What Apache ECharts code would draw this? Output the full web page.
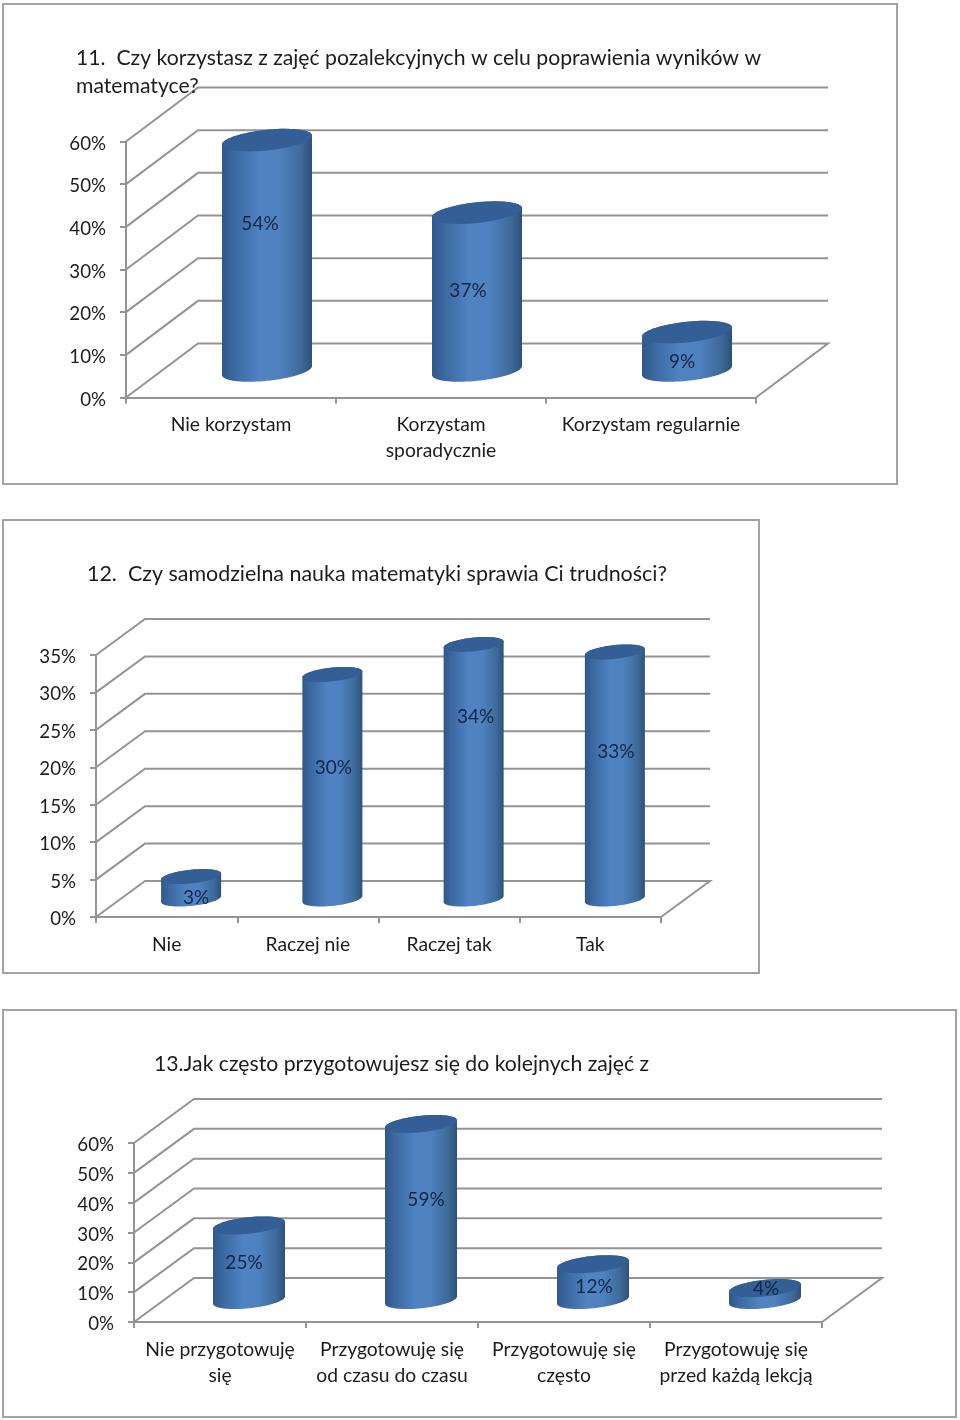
<!DOCTYPE html>
<html><head><meta charset="utf-8">
<style>html,body{margin:0;padding:0;background:#fff}#c{width:960px;height:1420px}</style>
<script src="https://cdn.jsdelivr.net/npm/echarts@6/dist/echarts.min.js"></script>
</head><body><div id="c"></div>
<script>
// ---- data ----
const categories1 = ['Nie korzystam', 'Korzystam\nsporadycznie', 'Korzystam regularnie'];
const values1 = [54, 37, 9];
const ticks1 = [0, 10, 20, 30, 40, 50, 60];
const categories2 = ['Nie', 'Raczej nie', 'Raczej tak', 'Tak'];
const values2 = [3, 30, 34, 33];
const ticks2 = [0, 5, 10, 15, 20, 25, 30, 35];
const categories3 = ['Nie przygotowuję\nsię', 'Przygotowuję się\nod czasu do czasu', 'Przygotowuję się\nczęsto', 'Przygotowuję się\nprzed każdą lekcją'];
const values3 = [25, 59, 12, 4];
const ticks3 = [0, 10, 20, 30, 40, 50, 60];
const title1 = '11.  Czy korzystasz z zajęć pozalekcyjnych w celu poprawienia wyników w\nmatematyce?';
const title2 = '12.  Czy samodzielna nauka matematyki sprawia Ci trudności?';
const title3 = '13.Jak często przygotowujesz się do kolejnych zajęć z';

// ---- layout ----
const FONT = 'Lato';
const TXT = '#1c1c1c', GRID = '#949494';
const panels = [
  {cats: categories1, vals: values1, ticks: ticks1, title: title1, tx: 76, ty: 44, ts: 21.2,
   frame: [3, 4, 894, 480], left: 126, top: 141.5, w: 630, h: 256, dx: 72, dy: 54, barW: 90, bx: 0, xm: 14,
   lab: [[-7, -31], [-9, -1], [-5, 11]]},
  {cats: categories2, vals: values2, ticks: ticks2, title: title2, tx: 87, ty: 560, ts: 21.45,
   frame: [3, 520, 756, 453], left: 96, top: 655, w: 565, h: 262, dx: 49, dy: 36, barW: 60, bx: 0, xm: 15,
   lab: [[5, 10], [1, -19], [2, -55], [1, -24]]},
  {cats: categories3, vals: values3, ticks: ticks3, title: title3, tx: 154, ty: 1050, ts: 21.2,
   frame: [3, 1010, 953, 407], left: 134, top: 1143, w: 688, h: 179, dx: 60, dy: 44, barW: 72, bx: -1, xm: 15,
   lab: [[-5, 0], [5, -12], [1, 5], [1, -5]]}
];

function ellipse(cx, cy, a, from, to, n) {
  const pts = [], b = a * 0.23, s = a * 0.1;
  for (let i = 0; i <= n; i++) {
    const t = from + (to - from) * i / n;
    pts.push([cx + a * Math.cos(t), cy - s * Math.cos(t) + b * Math.sin(t)]);
  }
  return pts;
}

function wallRender(p) {
  return function (params, api) {
    const cs = params.coordSys, v = api.value(1);
    const y = api.coord([0, v])[1], x0 = cs.x, x1 = cs.x + cs.width;
    const pts = [[x0, y], [x0 + p.dx, y - p.dy], [x1 + p.dx, y - p.dy]];
    if (v === 0) pts.push([x1, y]);
    return {type: 'polyline', shape: {points: pts},
      style: {stroke: GRID, lineWidth: 2, fill: null}, silent: true};
  };
}

function barRender(p) {
  return function (params, api) {
    const i = api.value(0), v = api.value(1);
    const top = api.coord([i, v]), base = api.coord([i, 0]);
    const cx = top[0] + p.dx / 2 + p.bx, yT = top[1] - p.dy / 2, yB = base[1] - p.dy / 2, a = p.barW / 2;
    const side = ellipse(cx, yB, a, Math.PI, 0, 40)
      .concat(ellipse(cx, yT, a, 0, -Math.PI, 40));
    const lab = p.lab[i];
    return {type: 'group', children: [
      {type: 'polygon', shape: {points: side}, silent: true, style: {
        fill: new echarts.graphic.LinearGradient(0, 0, 1, 0, [
          {offset: 0, color: '#305888'}, {offset: 0.14, color: '#3b69a1'},
          {offset: 0.42, color: '#5083c2'}, {offset: 0.64, color: '#4f81bf'},
          {offset: 0.88, color: '#3d6a98'}, {offset: 1, color: '#2f507a'}])}},
      {type: 'polygon', shape: {points: ellipse(cx, yT, a, 0, 2 * Math.PI, 60)}, silent: true,
        style: {fill: '#335f96'}},
      {type: 'text', silent: true, z2: 10, style: {
        x: cx + lab[0], y: (yT + yB) / 2 + lab[1], text: v + '%',
        align: 'center', verticalAlign: 'middle', fill: '#0f2748', font: '19px ' + FONT}}
    ]};
  };
}

const option = {
  animation: false, backgroundColor: '#fff',
  textStyle: {fontFamily: FONT},
  title: panels.map(p => ({text: p.title, left: p.tx, top: p.ty, padding: 0,
    textStyle: {fontFamily: FONT, fontSize: p.ts, fontWeight: 'normal', color: TXT, lineHeight: 28}})),
  graphic: panels.map(p => ({type: 'rect', silent: true, z: -1,
    shape: {x: p.frame[0], y: p.frame[1], width: p.frame[2], height: p.frame[3]},
    style: {fill: '#fff', stroke: '#a3a3a3', lineWidth: 2}})),
  grid: panels.map(p => ({left: p.left, top: p.top, width: p.w, height: p.h, containLabel: false})),
  xAxis: panels.map((p, k) => ({type: 'category', gridIndex: k, data: p.cats,
    axisLine: {lineStyle: {color: GRID, width: 2}},
    axisTick: {show: true, length: 6, lineStyle: {color: GRID, width: 2}},
    axisLabel: {interval: 0, margin: p.xm, color: TXT, fontFamily: FONT, fontSize: 19.3, lineHeight: 26},
    splitLine: {show: false}})),
  yAxis: panels.map((p, k) => ({type: 'value', gridIndex: k, min: 0,
    max: p.ticks[p.ticks.length - 1], interval: p.ticks[1],
    axisLine: {show: true, lineStyle: {color: GRID, width: 2}},
    axisTick: {show: true, length: 6, lineStyle: {color: GRID, width: 2}},
    axisLabel: {margin: 20, formatter: '{t|{value}%}',
      rich: {t: {color: TXT, fontFamily: FONT, fontSize: 18.7, padding: [4, 0, 0, 0]}}},
    splitLine: {show: false}})),
  series: panels.flatMap((p, k) => [
    {type: 'custom', xAxisIndex: k, yAxisIndex: k, z: 1, encode: {x: 0, y: 1},
     renderItem: wallRender(p), data: p.ticks.map(t => [0, t])},
    {type: 'custom', xAxisIndex: k, yAxisIndex: k, z: 3, encode: {x: 0, y: 1},
     renderItem: barRender(p), data: p.vals.map((v, i) => [i, v])}
  ])
};
echarts.init(document.getElementById('c'), null, {renderer: 'canvas'}).setOption(option);
</script></body></html>
